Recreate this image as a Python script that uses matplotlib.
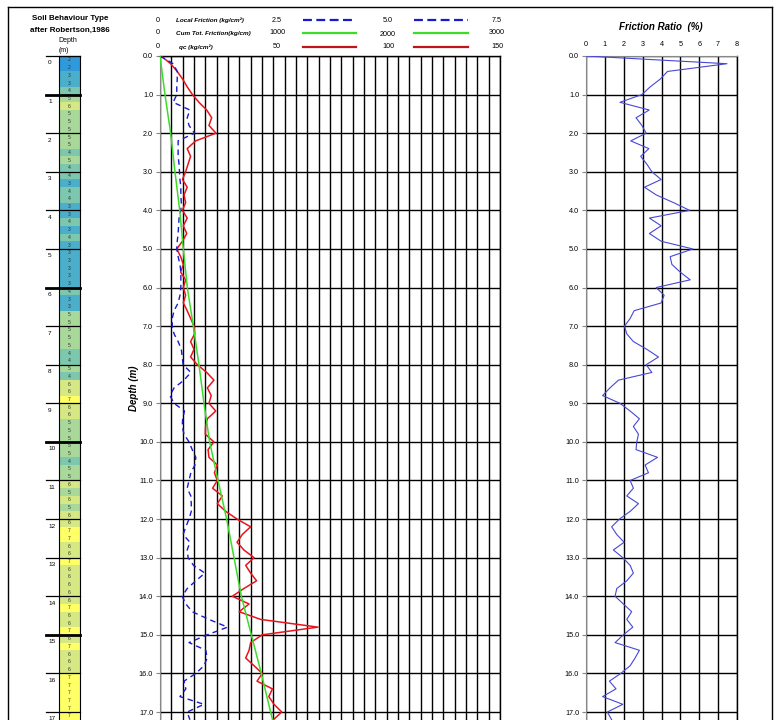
import numpy as np
import matplotlib
matplotlib.use("Agg")
import matplotlib.pyplot as plt
from matplotlib.lines import Line2D

plt.rcParams["font.family"] = ["Liberation Sans", "DejaVu Sans"]

# ---- data (0.2 m steps) ----
depth = np.round(np.arange(0, 17.21, 0.2), 1)

qc = [0.5, 4.7, 7.6, 10.0, 12.0, 14.3, 17.2, 20.6, 22.8, 21.6,
      24.7, 15.7, 12.0, 13.5, 12.4, 11.3, 9.9, 12.0, 10.6, 11.3,
      9.9, 12.0, 10.3, 11.8, 9.9, 7.4, 9.1, 10.3, 9.1, 11.3,
      10.3, 11.3, 10.3, 12.0, 13.5, 15.0, 15.3, 13.5, 15.0, 13.5,
      16.5, 20.6, 23.8, 20.9, 22.6, 21.6, 24.6, 20.9, 20.1, 20.0,
      23.8, 21.2, 21.6, 25.3, 24.0, 25.3, 23.2, 27.5, 25.3, 29.0,
      34.0, 40.0, 36.3, 34.0, 37.0, 41.5, 37.8, 40.0, 42.6, 37.0,
      31.9, 39.3, 34.9, 44.4, 69.7, 45.1, 40.0, 39.3, 37.8, 41.5,
      45.1, 42.8, 49.6, 48.0, 50.3, 53.7, 50.0]

local_friction = [0.00, 0.29, 0.38, 0.38, 0.37, 0.37, 0.29, 0.66, 0.60, 0.64,
                  0.76, 0.40, 0.40, 0.40, 0.42, 0.43, 0.44, 0.46, 0.46, 0.47,
                  0.46, 0.42, 0.41, 0.40, 0.38, 0.37, 0.40, 0.44, 0.46, 0.46,
                  0.46, 0.44, 0.40, 0.31, 0.27, 0.27, 0.31, 0.40, 0.47, 0.49,
                  0.51, 0.68, 0.53, 0.31, 0.22, 0.31, 0.54, 0.50, 0.49, 0.53,
                  0.64, 0.71, 0.79, 0.77, 0.68, 0.64, 0.60, 0.68, 0.69, 0.69,
                  0.64, 0.57, 0.51, 0.66, 0.60, 0.62, 0.74, 0.99, 0.79, 0.60,
                  0.49, 0.57, 0.71, 1.08, 1.49, 1.04, 0.64, 1.01, 1.04, 0.97,
                  0.79, 0.53, 0.57, 0.44, 0.97, 0.60, 0.66]

friction_ratio = [0.00, 7.47, 4.32, 3.93, 3.40, 2.96, 1.80, 3.35, 2.65, 2.96,
                  3.19, 2.37, 3.33, 2.90, 3.22, 3.49, 3.98, 3.10, 3.72, 4.64,
                  5.49, 3.36, 3.98, 3.36, 3.98, 5.66, 4.46, 4.55, 4.99, 5.52,
                  3.72, 4.14, 3.98, 2.55, 2.34, 2.04, 2.16, 2.51, 3.22, 3.84,
                  3.19, 3.49, 1.72, 1.27, 0.88, 1.80, 2.34, 2.83, 2.51, 2.78,
                  2.69, 2.65, 3.79, 3.13, 3.31, 2.34, 2.51, 2.16, 2.78, 2.34,
                  1.77, 1.36, 1.63, 2.02, 1.45, 1.95, 2.34, 2.51, 2.16, 1.63,
                  1.54, 1.98, 2.42, 2.16, 2.48, 1.98, 1.54, 2.83, 2.60, 2.34,
                  1.84, 1.24, 1.59, 0.88, 1.95, 1.13, 1.36]

# cumulative total friction, read at each metre
cum_depth = [0, 1, 2, 3, 4, 5, 6, 7, 8, 9, 10, 11, 12, 13, 14, 15, 16, 17, 17.2]
cum_friction = [0, 44, 94, 132, 174, 206, 241, 294, 344, 388, 438, 512, 588,
                653, 718, 806, 894, 976, 993]

# soil behaviour type (Robertson 1986), one per 0.2 m
soil_type = [2, 2, 3, 3, 4, 5, 6, 5, 5, 5, 5, 5, 4, 5, 4, 4, 3, 4, 4, 3,
             3, 4, 3, 4, 3, 3, 3, 3, 3, 3, 4, 3, 3, 5, 5, 5, 5, 5, 4, 4,
             5, 4, 6, 6, 7, 6, 6, 5, 5, 5, 5, 5, 4, 5, 5, 6, 5, 6, 5, 6,
             6, 7, 7, 6, 6, 7, 6, 6, 6, 6, 6, 7, 6, 6, 7, 6, 7, 6, 6, 6,
             7, 7, 7, 7, 7, 7]

soil_colors = {2: "#2E9ADB", 3: "#4BAECB", 4: "#7CC7AE", 5: "#A9D99A",
               6: "#D6E884", 7: "#FFFF66"}

W, H = 782, 720
DMAX = (720 - 56) / 38.59


def box(x0, y0, x1, y1):
    return [x0 / W, 1 - y1 / H, (x1 - x0) / W, (y1 - y0) / H]


def fx(x):
    return x / W


def fy(y):
    return 1 - y / H


fig = plt.figure(figsize=(7.82, 7.2), dpi=100)

# ---- soil behaviour column ----
axs = fig.add_axes(box(59, 56, 80, 720))
axs.set_xlim(0, 1)
axs.set_ylim(DMAX, 0)
cell_depth = depth[:len(soil_type)]
axs.barh(cell_depth + 0.1, 1, height=0.2, left=0,
         color=[soil_colors[t] for t in soil_type], edgecolor="none")
for d, t in zip(cell_depth, soil_type):
    if d + 0.1 < DMAX:
        axs.text(0.5, d + 0.1, str(t), ha="center", va="center", fontsize=3.6,
                 color="#333333")
axs.set_xticks([])
axs.set_yticks([])
for s in ["top", "left", "right"]:
    axs.spines[s].set_linewidth(0.8)
axs.spines["bottom"].set_visible(False)
for m in range(0, 18):
    lw = 2.0 if m in (1, 6, 10, 15) else 0.9
    axs.plot([-0.6, 1], [m, m], color="black", lw=lw, clip_on=False,
             transform=axs.get_yaxis_transform())
    axs.text(-0.52, m + 0.18, str(m), fontsize=4.6, ha="left", va="center")

fig.text(fx(70), fy(18), "Soil Behaviour Type", fontsize=5.8, weight="bold",
         ha="center", va="center")
fig.text(fx(70), fy(30), "after Robertson,1986", fontsize=5.8, weight="bold",
         ha="center", va="center")
fig.text(fx(68), fy(40), "Depth", fontsize=5.0, ha="center", va="center")
fig.text(fx(64), fy(51), "(m)", fontsize=5.0, ha="center", va="center")

# ---- main CPT chart ----
ax = fig.add_axes(box(160, 56, 500, 720))
ax.set_xlim(0, 150)
ax.set_ylim(DMAX, 0)
ax.set_xticks(np.arange(0, 151, 5))
ax.set_yticks(np.arange(0, 18, 1))
ax.set_yticklabels([f"{v:.1f}" for v in range(18)])
ax.grid(True, color="black", lw=1.0)
ax.tick_params(axis="x", length=0, labelbottom=False)
ax.tick_params(axis="y", length=3, color="#888888", labelsize=5.2, pad=2)
ax.spines["left"].set_color("#888888")
ax.spines["bottom"].set_visible(False)
ax.spines["top"].set_linewidth(1.0)
ax.spines["right"].set_linewidth(1.0)
ax.set_ylabel("Depth (m)", fontsize=7, style="italic", weight="bold", labelpad=0)
ax.plot(qc, depth, color="#E8141C", lw=1.1, zorder=5)

ax_fs = ax.twiny()
ax_fs.set_xlim(0, 7.5)
ax_fs.plot(local_friction, depth, color="#1A1ACC", lw=1.0, ls=(0, (4, 3)), zorder=4)
ax_cf = ax.twiny()
ax_cf.set_xlim(0, 3000)
ax_cf.plot(cum_friction, cum_depth, color="#3CDC28", lw=1.1, zorder=3)
for a in (ax_fs, ax_cf):
    a.set_ylim(DMAX, 0)
    a.set_xticks([])
    for s in a.spines.values():
        s.set_visible(False)

# header legend for the main chart
rows = [
    (20, "Local Friction (kg/cm²)", ["2.5", "5.0", "7.5"],
     dict(color="#1A1ACC", lw=1.6, ls=(0, (4, 2)))),
    (33, "Cum Tot. Friction(kg/cm)", ["1000", "2000", "3000"],
     dict(color="#3CDC28", lw=1.6)),
    (47, "qc (kg/cm²)", ["50", "100", "150"],
     dict(color="#C0141C", lw=1.6)),
]
for y, label, vals, style in rows:
    fig.text(fx(158), fy(y), "0", fontsize=5.2, ha="center", va="center")
    fig.text(fx(176 if "qc" not in label else 179), fy(y), label, fontsize=4.6,
             style="italic", weight="bold", ha="left", va="center")
    for xv, v in zip([277, 388, 497], vals):
        yy = y + 2 if v == "2000" else y
        fig.text(fx(xv), fy(yy), v, fontsize=5.2, ha="center", va="center")
    for x0, x1 in [(303, 356), (414, 468)]:
        fig.add_artist(Line2D([fx(x0), fx(x1)], [fy(y), fy(y)], **style))

# ---- friction ratio chart ----
axr = fig.add_axes(box(586, 56, 737, 720))
axr.set_xlim(0, 8)
axr.set_ylim(DMAX, 0)
axr.set_xticks(np.arange(0, 9, 1))
axr.set_yticks(np.arange(0, 18, 1))
axr.set_yticklabels([f"{v:.1f}" for v in range(18)])
axr.grid(True, color="black", lw=1.0)
axr.xaxis.tick_top()
axr.tick_params(axis="x", length=0, labelsize=5.2, pad=6)
axr.tick_params(axis="y", length=3, color="#888888", labelsize=5.2, pad=2)
axr.spines["left"].set_color("#888888")
axr.spines["bottom"].set_visible(False)
axr.spines["top"].set_color("#888888")
axr.spines["right"].set_linewidth(1.0)
axr.plot(friction_ratio, depth, color="#4747D6", lw=0.8, zorder=5)
fig.text(fx(661), fy(27), "Friction Ratio  (%)", fontsize=7, style="italic",
         weight="bold", ha="center", va="center")

# outer frame
frame = dict(color="black", lw=1.0)
fig.add_artist(Line2D([fx(8), fx(772)], [fy(7), fy(7)], **frame))
fig.add_artist(Line2D([fx(8), fx(8)], [fy(7), 0], **frame))
fig.add_artist(Line2D([fx(772), fx(772)], [fy(7), 0], **frame))

fig.savefig("out.png", dpi=100, facecolor="white")
